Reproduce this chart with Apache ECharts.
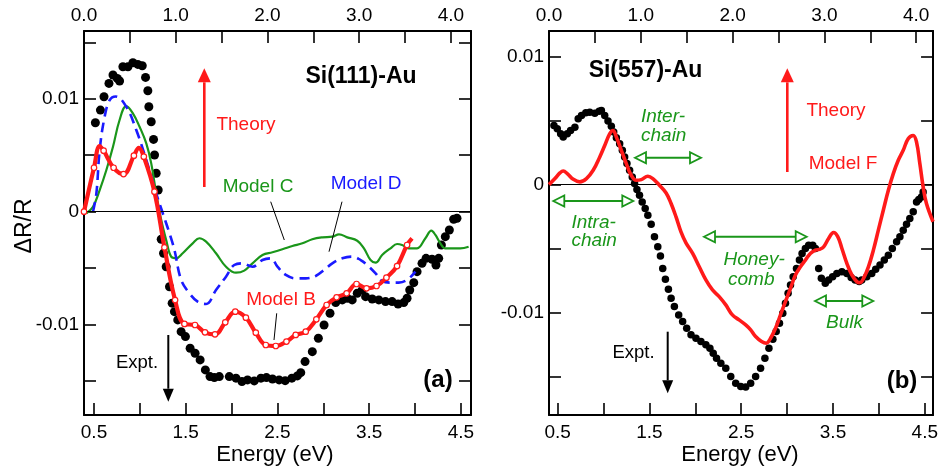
<!DOCTYPE html>
<html><head><meta charset="utf-8">
<script src="https://cdn.jsdelivr.net/npm/echarts@6/dist/echarts.min.js"></script>
<style>html,body{margin:0;padding:0;background:#fff}#c{width:941px;height:470px}</style>
</head><body><div id="c"></div>
<script>
// ---------- Panel (a) Si(111)-Au ----------
const exptA = [[0.515,0.00788],[0.570,0.0090],[0.609,0.01018],[0.663,0.01136],[0.707,0.0121],[0.754,0.0118],[0.779,0.01157],[0.815,0.01283],[0.870,0.01283],[0.924,0.01319],[0.978,0.01304],[1.026,0.01292],[1.062,0.01189],[1.087,0.01071],[1.098,0.00929],[1.124,0.00796],[1.149,0.0064],[1.160,0.00502],[1.178,0.0034],[1.200,0.00192],[1.233,-0.00244],[1.258,-0.00368],[1.287,-0.00487],[1.323,-0.00664],[1.352,-0.0081],[1.377,-0.00885],[1.413,-0.00958],[1.450,-0.01062],[1.497,-0.01106],[1.548,-0.01209],[1.602,-0.01253],[1.657,-0.01312],[1.714,-0.01401],[1.765,-0.0146],[1.812,-0.01469],[1.866,-0.0146],[1.975,-0.0146],[2.048,-0.01474],[2.113,-0.01504],[2.174,-0.01489],[2.247,-0.01498],[2.320,-0.01474],[2.380,-0.01469],[2.446,-0.01481],[2.518,-0.01489],[2.584,-0.01496],[2.657,-0.01474],[2.717,-0.01454],[2.754,-0.01425],[2.801,-0.01327],[2.880,-0.01239],[2.946,-0.0112],[3.008,-0.01003],[3.073,-0.00899],[3.135,-0.00805],[3.207,-0.00781],[3.261,-0.00766],[3.315,-0.00781],[3.370,-0.00722],[3.424,-0.00693],[3.461,-0.00752],[3.533,-0.00773],[3.605,-0.00781],[3.678,-0.00796],[3.750,-0.00796],[3.815,-0.00817],[3.877,-0.00805],[3.913,-0.00766],[3.942,-0.00693],[3.986,-0.00628],[4.022,-0.00531],[4.076,-0.00457],[4.120,-0.00413],[4.185,-0.00421],[4.228,-0.00472],[4.258,-0.00413],[4.287,-0.00295],[4.330,-0.00221],[4.374,-0.00162],[4.421,-0.00067],[4.457,-0.00058]];

const modelC = [[0.417,-0.00014],[0.489,0.00044],[0.562,0.00192],[0.635,0.00369],[0.707,0.00575],[0.779,0.00812],[0.852,0.00935],[0.924,0.00871],[0.997,0.00752],[1.070,0.00605],[1.124,0.00428],[1.178,0.00163],[1.233,-0.00073],[1.287,-0.0025],[1.341,-0.00398],[1.396,-0.00412],[1.467,-0.00368],[1.576,-0.0028],[1.649,-0.00235],[1.722,-0.00265],[1.830,-0.00368],[1.939,-0.00487],[2.048,-0.0054],[2.138,-0.00522],[2.228,-0.00457],[2.337,-0.00383],[2.446,-0.00359],[2.554,-0.00333],[2.663,-0.00304],[2.772,-0.0028],[2.880,-0.00244],[2.989,-0.00227],[3.098,-0.00221],[3.171,-0.002],[3.261,-0.00227],[3.370,-0.00257],[3.443,-0.00324],[3.515,-0.00428],[3.570,-0.00451],[3.641,-0.00383],[3.733,-0.00324],[3.804,-0.00286],[3.859,-0.00295],[3.931,-0.00324],[4.022,-0.00324],[4.113,-0.00235],[4.178,-0.00168],[4.222,-0.00206],[4.276,-0.0028],[4.330,-0.00324],[4.402,-0.00324],[4.493,-0.00324],[4.584,-0.0031]];

const modelD = [[0.489,0],[0.526,0.00163],[0.562,0.00546],[0.616,0.0084],[0.671,0.00988],[0.736,0.0102],[0.852,0.00929],[0.961,0.00723],[1.070,0.00458],[1.178,0.00163],[1.250,-0.00014],[1.323,-0.00191],[1.377,-0.00339],[1.450,-0.00604],[1.540,-0.00722],[1.630,-0.00796],[1.722,-0.00817],[1.830,-0.00693],[1.939,-0.00575],[2.029,-0.00472],[2.120,-0.00457],[2.228,-0.00487],[2.337,-0.00428],[2.428,-0.00413],[2.500,-0.00487],[2.591,-0.0056],[2.700,-0.0059],[2.809,-0.0059],[2.917,-0.00569],[3.008,-0.00516],[3.098,-0.00457],[3.207,-0.00413],[3.315,-0.00398],[3.407,-0.00428],[3.478,-0.00472],[3.570,-0.00546],[3.641,-0.00613],[3.733,-0.00628],[3.822,-0.00628],[3.913,-0.00604],[4.004,-0.00531]];

const modelB = [[0.391,0],[0.5,0.00389],[0.562,0.00581],[0.605,0.0054],[0.714,0.00389],[0.822,0.00333],[0.935,0.00496],[0.989,0.00566],[1.043,0.00487],[1.159,0.00177],[1.268,-0.00316],[1.384,-0.00782],[1.486,-0.00994],[1.601,-0.01003],[1.710,-0.01068],[1.819,-0.01086],[1.931,-0.00979],[2.040,-0.00885],[2.156,-0.00938],[2.264,-0.01071],[2.373,-0.0118],[2.482,-0.01189],[2.598,-0.0115],[2.699,-0.01091],[2.808,-0.01062],[2.924,-0.00953],[3.036,-0.00826],[3.145,-0.00758],[3.254,-0.00723],[3.362,-0.0064],[3.471,-0.00678],[3.580,-0.00658],[3.688,-0.00584],[3.804,-0.00481],[3.913,-0.00295],[3.967,-0.00236]];

const modelBMarks = [[0.391,0],[0.5,0.00389],[0.605,0.0054],[0.714,0.00389],[0.822,0.00333],[0.935,0.00496],[1.043,0.00487],[1.159,0.00177],[1.268,-0.00316],[1.384,-0.00782],[1.486,-0.00994],[1.601,-0.01003],[1.710,-0.01068],[1.819,-0.01086],[1.931,-0.00979],[2.040,-0.00885],[2.156,-0.00938],[2.264,-0.01071],[2.373,-0.0118],[2.482,-0.01189],[2.598,-0.0115],[2.699,-0.01091],[2.808,-0.01062],[2.924,-0.00953],[3.036,-0.00826],[3.145,-0.00758],[3.254,-0.00723],[3.362,-0.0064],[3.471,-0.00678],[3.580,-0.00658],[3.688,-0.00584],[3.804,-0.00481],[3.913,-0.00295]];

// ---------- Panel (b) Si(557)-Au ----------
const exptB = [[0.460,0.00462],[0.496,0.00436],[0.533,0.00397],[0.561,0.00371],[0.605,0.00397],[0.641,0.00423],[0.688,0.00449],[0.724,0.00514],[0.760,0.0054],[0.807,0.00561],[0.850,0.00566],[0.905,0.00558],[0.952,0.00574],[0.977,0.00579],[1.013,0.0054],[1.049,0.00496],[1.085,0.00455],[1.111,0.0041],[1.140,0.00366],[1.176,0.00319],[1.205,0.00268],[1.230,0.00216],[1.255,0.00164],[1.284,0.00112],[1.313,0.0006],[1.338,0.00008],[1.364,-0.00039],[1.392,-0.00083],[1.421,-0.00135],[1.454,-0.00187],[1.483,-0.00239],[1.519,-0.00309],[1.555,-0.00408],[1.591,-0.00486],[1.620,-0.00558],[1.645,-0.00655],[1.674,-0.0074],[1.707,-0.00818],[1.736,-0.00888],[1.772,-0.00953],[1.819,-0.01018],[1.862,-0.0107],[1.906,-0.01122],[1.953,-0.01174],[2.007,-0.012],[2.061,-0.01226],[2.115,-0.01252],[2.159,-0.01278],[2.195,-0.01317],[2.231,-0.01356],[2.278,-0.01395],[2.332,-0.01434],[2.386,-0.01499],[2.440,-0.01551],[2.495,-0.01577],[2.549,-0.01582],[2.603,-0.01551],[2.657,-0.01499],[2.711,-0.01434],[2.758,-0.01356],[2.802,-0.01278],[2.845,-0.01208],[2.881,-0.01148],[2.917,-0.01083],[2.953,-0.01005],[2.982,-0.00927],[3.011,-0.00849],[3.037,-0.00784],[3.066,-0.00719],[3.102,-0.00655],[3.134,-0.0059],[3.163,-0.00538],[3.199,-0.00499],[3.235,-0.00473],[3.279,-0.00473],[3.308,-0.00499],[3.344,-0.00655],[3.373,-0.00732],[3.416,-0.00771],[3.452,-0.00745],[3.496,-0.00719],[3.542,-0.00694],[3.597,-0.00681],[3.651,-0.00694],[3.698,-0.00725],[3.741,-0.00745],[3.785,-0.00758],[3.813,-0.00745],[3.868,-0.00719],[3.922,-0.00694],[3.965,-0.00662],[4.012,-0.00629],[4.059,-0.0059],[4.103,-0.00551],[4.146,-0.00499],[4.193,-0.00447],[4.229,-0.00408],[4.265,-0.00356],[4.301,-0.00309],[4.337,-0.00265],[4.374,-0.00213],[4.410,-0.00135],[4.435,-0.00117],[4.464,-0.00096],[4.482,-0.00057]];

const modelF = [[0.406,0],[0.471,0.00047],[0.525,0.00091],[0.561,0.00106],[0.605,0.00086],[0.670,0.00042],[0.742,0.00021],[0.814,0.00047],[0.887,0.00112],[0.959,0.00216],[1.013,0.00306],[1.067,0.00397],[1.103,0.00423],[1.140,0.00371],[1.194,0.00268],[1.248,0.00164],[1.302,0.00073],[1.356,0.00034],[1.411,0.00039],[1.483,0.00065],[1.537,0.00047],[1.609,-0.00005],[1.682,-0.00065],[1.736,-0.00148],[1.790,-0.00252],[1.844,-0.00369],[1.898,-0.00455],[1.971,-0.00538],[2.043,-0.00642],[2.115,-0.00745],[2.187,-0.00823],[2.260,-0.00875],[2.332,-0.0094],[2.404,-0.01018],[2.477,-0.01057],[2.549,-0.01096],[2.603,-0.01135],[2.657,-0.01187],[2.722,-0.01226],[2.773,-0.01239],[2.820,-0.012],[2.874,-0.01122],[2.928,-0.01018],[2.982,-0.00914],[3.037,-0.0081],[3.091,-0.00706],[3.145,-0.00642],[3.199,-0.0059],[3.253,-0.00538],[3.308,-0.00512],[3.351,-0.00506],[3.398,-0.00486],[3.452,-0.00421],[3.506,-0.00374],[3.553,-0.00408],[3.597,-0.00499],[3.651,-0.00616],[3.705,-0.00706],[3.759,-0.00758],[3.795,-0.00766],[3.842,-0.00719],[3.886,-0.00642],[3.940,-0.00512],[3.994,-0.00356],[4.048,-0.002],[4.103,-0.00044],[4.157,0.00086],[4.211,0.0019],[4.265,0.00268],[4.319,0.00358],[4.374,0.00384],[4.410,0.00332],[4.446,0.00164],[4.482,-0.00018],[4.518,-0.00148],[4.590,-0.0029]];

// ---------- ticks ----------
const bottomTicks = [0.5,1.0,1.5,2.0,2.5,3.0,3.5,4.0,4.5];
const bottomLabels = [0.5,1.5,2.5,3.5,4.5];
const topTicks = [0.5,1.0,1.5,2.0,2.5,3.0,3.5,4.0];
const topLabels = [0.0,1.0,2.0,3.0,4.0];
const yTicks = [-0.015,-0.01,-0.005,0,0.005,0.01,0.015];
const yLabels = [-0.01,0,0.01];

const FONT = '"Liberation Sans", Arial, Helvetica, sans-serif';
const RED = '#ff1a1a', GREEN = '#1a961a', BLUE = '#1a1aff';

function xBottom(gi, min, max){
  return {type:'value', gridIndex:gi, position:'bottom', min:min, max:max,
    axisLine:{show:true, onZero:false, lineStyle:{color:'#000', width:2}},
    axisTick:{show:true, inside:true, length:12, customValues:bottomTicks, lineStyle:{color:'#000', width:1.6}},
    axisLabel:{show:true, customValues:bottomLabels, margin:8, color:'#000', fontSize:19, fontFamily:FONT, formatter:v=>v.toFixed(1)},
    splitLine:{show:false}};
}
function xTop(gi, min, max){
  return {type:'value', gridIndex:gi, position:'top', min:min, max:max,
    axisLine:{show:true, onZero:false, lineStyle:{color:'#000', width:2}},
    axisTick:{show:true, inside:true, length:12, customValues:topTicks, lineStyle:{color:'#000', width:1.6}},
    axisLabel:{show:true, customValues:topLabels, margin:6, color:'#000', fontSize:19, fontFamily:FONT, formatter:v=>v.toFixed(1)},
    splitLine:{show:false}};
}
function yAx(gi, min, max, pos, labels){
  return {type:'value', gridIndex:gi, position:pos, min:min, max:max,
    axisLine:{show:true, onZero:false, lineStyle:{color:'#000', width:2}},
    axisTick:{show:true, inside:true, length:12, customValues:yTicks, lineStyle:{color:'#000', width:1.6}},
    axisLabel:{show:labels, customValues:yLabels, margin:5, color:'#000', fontSize:19, fontFamily:FONT,
      formatter:v=> (Math.abs(v)<1e-9 ? '0' : (v<0?'-':'') + Math.abs(v).toFixed(2))},
    splitLine:{show:false}};
}
const zeroLine = {silent:true, symbol:'none', label:{show:false}, lineStyle:{color:'#000', width:1, type:'solid', opacity:1}, data:[{yAxis:0}]};

function txt(t, x, y, size, color, opts){
  opts = opts || {};
  return {type:'text', z:100, style:{text:t, x:x, y:y, fill:color,
    font:(opts.style||'') + ' ' + (opts.weight||'normal') + ' ' + size + 'px ' + FONT,
    textAlign:opts.align||'center', textVerticalAlign:'middle'}};
}
function vArrow(x, y0, tip, color, w, hw, hl){
  const dir = tip < y0 ? -1 : 1;
  const base = tip - dir*hl;
  return [
    {type:'line', z:100, shape:{x1:x, y1:y0, x2:x, y2:base}, style:{stroke:color, lineWidth:w}},
    {type:'polygon', z:100, shape:{points:[[x,tip],[x-hw,base],[x+hw,base]]}, style:{fill:color}}
  ];
}
function dArrow(x1, x2, y){
  const L = 11, H = 5.5;
  return [
    {type:'line', z:100, shape:{x1:x1+L, y1:y, x2:x2-L, y2:y}, style:{stroke:GREEN, lineWidth:2}},
    {type:'polygon', z:100, shape:{points:[[x1,y],[x1+L,y-H],[x1+L,y+H]]}, style:{fill:'#fff', stroke:GREEN, lineWidth:1.8}},
    {type:'polygon', z:100, shape:{points:[[x2,y],[x2-L,y-H],[x2-L,y+H]]}, style:{fill:'#fff', stroke:GREEN, lineWidth:1.8}}
  ];
}
function seg(x1,y1,x2,y2){ return {type:'line', z:100, shape:{x1,y1,x2,y2}, style:{stroke:'#000', lineWidth:1}}; }

const chart = echarts.init(document.getElementById('c'), null, {renderer:'canvas'});
chart.setOption({
  animation:false,
  backgroundColor:'#fff',
  grid:[
    {left:84, top:31, width:387, height:384},
    {left:549, top:31, width:386, height:384}
  ],
  xAxis:[ xBottom(0,0.391,4.61), xTop(0,0,4.219), xBottom(1,0.406,4.59), xTop(1,0,4.184) ],
  yAxis:[ yAx(0,-0.018,0.016,'left',true), yAx(0,-0.018,0.016,'right',false),
          yAx(1,-0.018,0.012,'left',true), yAx(1,-0.018,0.012,'right',false) ],
  series:[
    {type:'scatter', name:'Expt a', xAxisIndex:0, yAxisIndex:0, data:exptA, symbolSize:9, itemStyle:{color:'#000', opacity:1}, markLine:zeroLine, z:2},
    {type:'line', name:'Model C', xAxisIndex:0, yAxisIndex:0, data:modelC, smooth:0.4, showSymbol:false, lineStyle:{color:GREEN, width:2.2}, z:3},
    {type:'line', name:'Model D', xAxisIndex:0, yAxisIndex:0, data:modelD, smooth:0.4, showSymbol:false, lineStyle:{color:BLUE, width:2.6, type:[10,6]}, z:4},
    {type:'line', name:'Model B', xAxisIndex:0, yAxisIndex:0, data:modelB, smooth:0.4, showSymbol:false, lineStyle:{color:RED, width:4.2}, z:5},
    {type:'scatter', name:'Model B pts', xAxisIndex:0, yAxisIndex:0, data:modelBMarks, symbolSize:5.5, clip:false, itemStyle:{color:'#fff', borderColor:RED, borderWidth:1.2, opacity:1}, z:6},
    {type:'scatter', name:'Expt b', xAxisIndex:2, yAxisIndex:2, data:exptB, symbolSize:7.5, itemStyle:{color:'#000', opacity:1}, markLine:zeroLine, z:2},
    {type:'line', name:'Model F', xAxisIndex:2, yAxisIndex:2, data:modelF, smooth:0.4, showSymbol:false, lineStyle:{color:RED, width:3.6}, z:5}
  ],
  graphic:[
    {type:'text', z:100, rotation:Math.PI/2, x:25, y:226, style:{text:'ΔR/R', fill:'#000', font:'23px '+FONT, textAlign:'center', textVerticalAlign:'middle'}},
    txt('Energy (eV)', 275, 455, 22, '#000'),
    txt('Energy (eV)', 740, 455, 22, '#000'),
    // panel a
    txt('Si(111)-Au', 361, 77, 23, '#000', {weight:'bold'}),
    txt('Theory', 246, 125, 19, RED),
    txt('Model C', 258, 187, 19, GREEN),
    txt('Model D', 366, 184, 19, BLUE),
    txt('Model B', 281, 300, 19, RED),
    txt('Expt.', 137, 363, 18.5, '#000'),
    txt('(a)', 438, 380, 24, '#000', {weight:'bold'}),
    seg(270.7,201.7,284.3,240), seg(342,201.7,329,251.7), seg(276.7,313.3,274,340),
    ...vArrow(204.3, 187, 68.3, RED, 2.6, 6.5, 14),
    ...vArrow(168.3, 335, 401.7, '#000', 2, 5.5, 13),
    // panel b
    txt('Si(557)-Au', 645.5, 71, 23, '#000', {weight:'bold'}),
    txt('Theory', 836, 111, 19, RED),
    txt('Model F', 843, 164, 19, RED),
    txt('Inter-', 641, 117, 19, GREEN, {style:'italic', align:'left'}),
    txt('chain', 641, 135.5, 19, GREEN, {style:'italic', align:'left'}),
    txt('Intra-', 571.5, 223, 19, GREEN, {style:'italic', align:'left'}),
    txt('chain', 571.5, 241, 19, GREEN, {style:'italic', align:'left'}),
    txt('Honey-', 723.5, 259.5, 19, GREEN, {style:'italic', align:'left'}),
    txt('comb', 728, 279.5, 19, GREEN, {style:'italic', align:'left'}),
    txt('Bulk', 826, 323, 19, GREEN, {style:'italic', align:'left'}),
    txt('Expt.', 633.5, 353, 18.5, '#000'),
    txt('(b)', 902, 381, 24, '#000', {weight:'bold'}),
    ...dArrow(635, 701, 157.7),
    ...dArrow(553.3, 633.3, 201),
    ...dArrow(704, 806.7, 236.7),
    ...dArrow(815, 873.3, 301),
    ...vArrow(787.3, 172, 68.3, RED, 2.6, 6.5, 14),
    ...vArrow(667.7, 331.7, 393.3, '#000', 2, 5.5, 13)
  ]
});
</script></body></html>
